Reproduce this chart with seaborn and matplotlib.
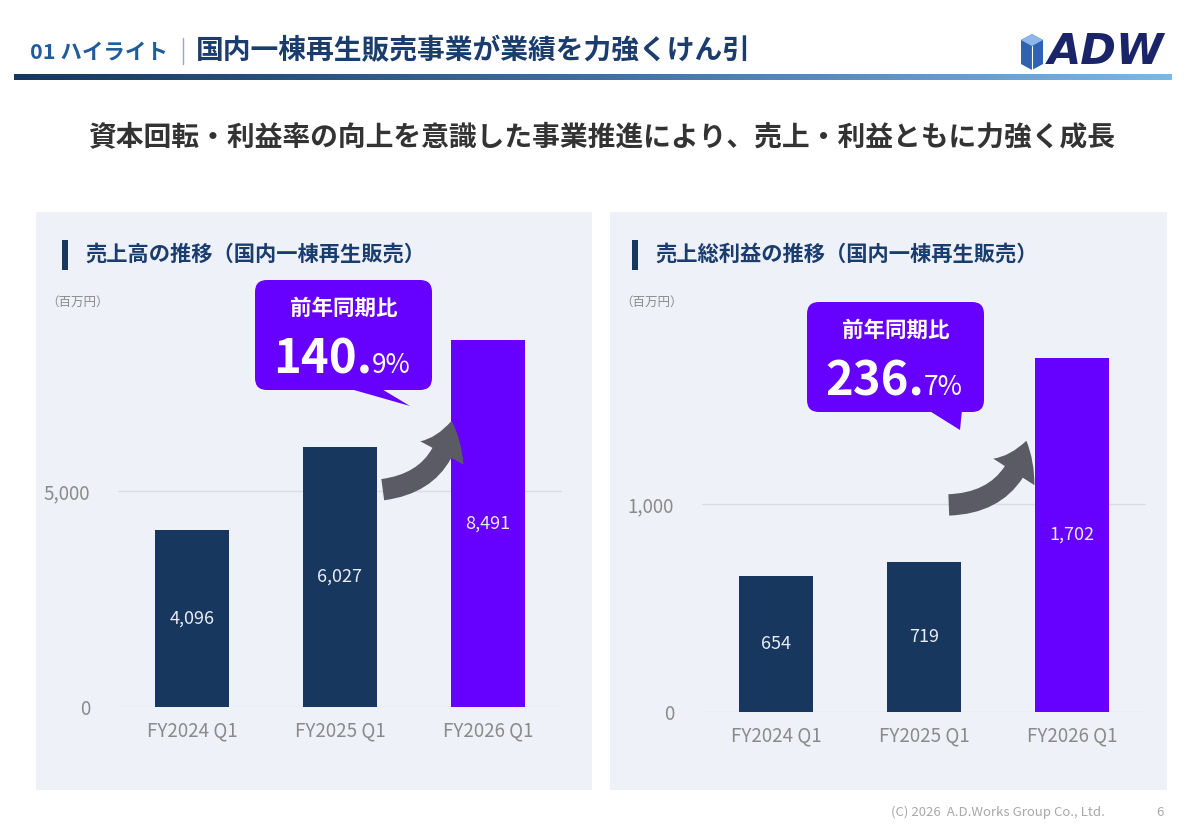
import numpy as np
import pandas as pd
import matplotlib
matplotlib.use("Agg")
import matplotlib.pyplot as plt
import seaborn as sns
from matplotlib.patches import Rectangle, FancyBboxPatch, Polygon, FancyArrowPatch
from matplotlib.colors import LinearSegmentedColormap

# ---------------- data ----------------
categories = ["FY2024 Q1", "FY2025 Q1", "FY2026 Q1"]
sales_values = [4096, 6027, 8491]
gross_profit_values = [654, 719, 1702]
sales_ticks = [0, 5000]
profit_ticks = [0, 1000]
yoy_sales = ("140.", "9%")
yoy_profit = ("236.", "7%")
panel_titles = ["売上高の推移（国内一棟再生販売）", "売上総利益の推移（国内一棟再生販売）"]
unit_label = "（百万円）"
header_tag = "01 ハイライト"
header_title = "国内一棟再生販売事業が業績を力強くけん引"
subtitle = "資本回転・利益率の向上を意識した事業推進により、売上・利益ともに力強く成長"
footer = "(C) 2026  A.D.Works Group Co., Ltd."
page_no = "6"

NAVY = "#17375e"
PURPLE = "#6600ff"
PANEL_BG = "#eff1f8"
GRAY = "#8a8a8a"

sns.set_theme(style="white")
plt.rcParams["font.family"] = ["Noto Sans CJK JP", "DejaVu Sans"]

W, H = 1200, 834
fig = plt.figure(figsize=(12, 8.34), dpi=100)
fig.patch.set_facecolor("white")

def fx(x):
    return x / W

def fy(y):
    return 1 - y / H

# background axes for panels (pixel coords, y downward)
bg = fig.add_axes([0, 0, 1, 1], zorder=0)
bg.set_xlim(0, W)
bg.set_ylim(H, 0)
bg.axis("off")
bg.add_patch(Rectangle((36, 212), 556, 578, color=PANEL_BG, lw=0))
bg.add_patch(Rectangle((610, 212), 557, 578, color=PANEL_BG, lw=0))

def draw_chart(left_px, zero_px, ytop, ticks, values, px_per_unit):
    height_px = ytop * px_per_unit
    ax = fig.add_axes([fx(left_px), fy(zero_px), 444 / W, height_px / H], zorder=1)
    ax.set_facecolor("none")
    df = pd.DataFrame({"cat": categories, "val": values})
    sns.barplot(data=df, x="cat", y="val", hue="cat", legend=False,
                palette=[NAVY, NAVY, PURPLE], saturation=1, width=0.5, ax=ax,
                edgecolor="none", zorder=3)
    ax.set_ylim(0, ytop)
    ax.set_xlim(-0.5, 2.5)
    ax.set_yticks(ticks)
    ax.set_yticklabels([f"{t:,}" for t in ticks])
    ax.yaxis.grid(True, color="#d9dce6", lw=1)
    ax.set_axisbelow(True)
    for s in ax.spines.values():
        s.set_visible(False)
    ax.tick_params(axis="both", length=0, colors=GRAY, labelsize=13.5)
    ax.tick_params(axis="y", pad=20)
    ax.tick_params(axis="x", pad=10)
    ax.set_xlabel("")
    ax.set_ylabel("")
    for i, v in enumerate(values):
        ax.text(i, v / 2, f"{v:,}", ha="center", va="center", color="#e8ecf5",
                fontsize=13, zorder=4)
    return ax

ax1 = draw_chart(118, 707, 9400, sales_ticks, sales_values, 216 / 5000)
ax2 = draw_chart(702, 712, 2000, profit_ticks, gross_profit_values, 208 / 1000)

# overlay axes for decorations
ov = fig.add_axes([0, 0, 1, 1], zorder=5)
ov.set_xlim(0, W)
ov.set_ylim(H, 0)
ov.axis("off")
ov.patch.set_alpha(0)

# header
ov.text(30, 52, header_tag, color="#1f5c99", fontsize=15.5, fontweight="bold", va="center")
ov.plot([183, 183], [38, 64], color="#9aa6b8", lw=1)
ov.text(196, 51, header_title, color="#1b3d6e", fontsize=20, fontweight="bold", va="center")
grad = np.linspace(0, 1, 256).reshape(1, -1)
cmap = LinearSegmentedColormap.from_list("hdr", ["#17375e", "#3d6fa5", "#7ab8ea"])
ov.imshow(grad, cmap=cmap, extent=[14, 1172, 80, 74], aspect="auto", zorder=2)
ov.set_xlim(0, W)
ov.set_ylim(H, 0)

# logo
ov.add_patch(Polygon([[1021, 40], [1032, 34], [1043, 40], [1043, 64], [1032, 70], [1021, 64]],
                     closed=True, color="#2f62b0", lw=0))
ov.add_patch(Polygon([[1021, 40], [1032, 34], [1043, 40], [1032, 46]], closed=True,
                     color="#8fb8ea", lw=0))
ov.plot([1032, 1032], [46, 70], color="white", lw=0.8)
ov.text(1048, 52, "ADW", color="#1a2468", fontsize=31, fontweight="bold", style="italic",
        va="center", ha="left", family=["DejaVu Sans"])

# subtitle
ov.text(602, 137, subtitle, color="#333333", fontsize=20, fontweight="bold",
        ha="center", va="center")

# panel titles
for x0, t in [(62, panel_titles[0]), (632, panel_titles[1])]:
    ov.add_patch(Rectangle((x0, 240), 6, 30, color="#17375e", lw=0))
    ov.text(x0 + 23, 254, t, color="#1b3d6e", fontsize=15.3, fontweight="bold", va="center")
ov.text(46, 302, unit_label, color=GRAY, fontsize=9, va="center")
ov.text(620, 302, unit_label, color=GRAY, fontsize=9, va="center")

# callouts
def callout(x0, y0, w, h, tail, main, small):
    ov.add_patch(FancyBboxPatch((x0 + 12, y0 + 12), w - 24, h - 24,
                                boxstyle="round,pad=12", color=PURPLE, lw=0))
    ov.add_patch(Polygon(tail, closed=True, color=PURPLE, lw=0))
    cx = x0 + w / 2
    ov.text(cx, y0 + 28, "前年同期比", color="white", fontsize=15.5, fontweight="bold",
            ha="center", va="center")
    ov.text(x0 + 18, y0 + 93, main, color="white", fontsize=34, fontweight="bold",
            ha="left", va="baseline")
    ov.text(x0 + 117, y0 + 93, small, color="white", fontsize=19, ha="left", va="baseline")

callout(255, 280, 177, 110, [[347, 388], [380, 388], [410, 406]], *yoy_sales)
callout(807, 302, 177, 110, [[928, 410], [962, 410], [960, 430]], *yoy_profit)

# growth arrows
for a, b in [((380, 490), (452, 418)), ((946, 505), (1027, 438))]:
    ov.add_patch(FancyArrowPatch(a, b, connectionstyle="arc3,rad=0.4",
                                 arrowstyle="simple,head_length=1.1,head_width=1.6,tail_width=0.7",
                                 mutation_scale=22, color="#5b5b66", lw=0, zorder=3))

# footer
ov.text(1105, 812, footer, color="#a8a8a8", fontsize=9.5, ha="right", va="center")
ov.text(1160, 812, page_no, color="#a8a8a8", fontsize=9.5, ha="center", va="center")

fig.savefig("out.png", dpi=100, facecolor="white")
